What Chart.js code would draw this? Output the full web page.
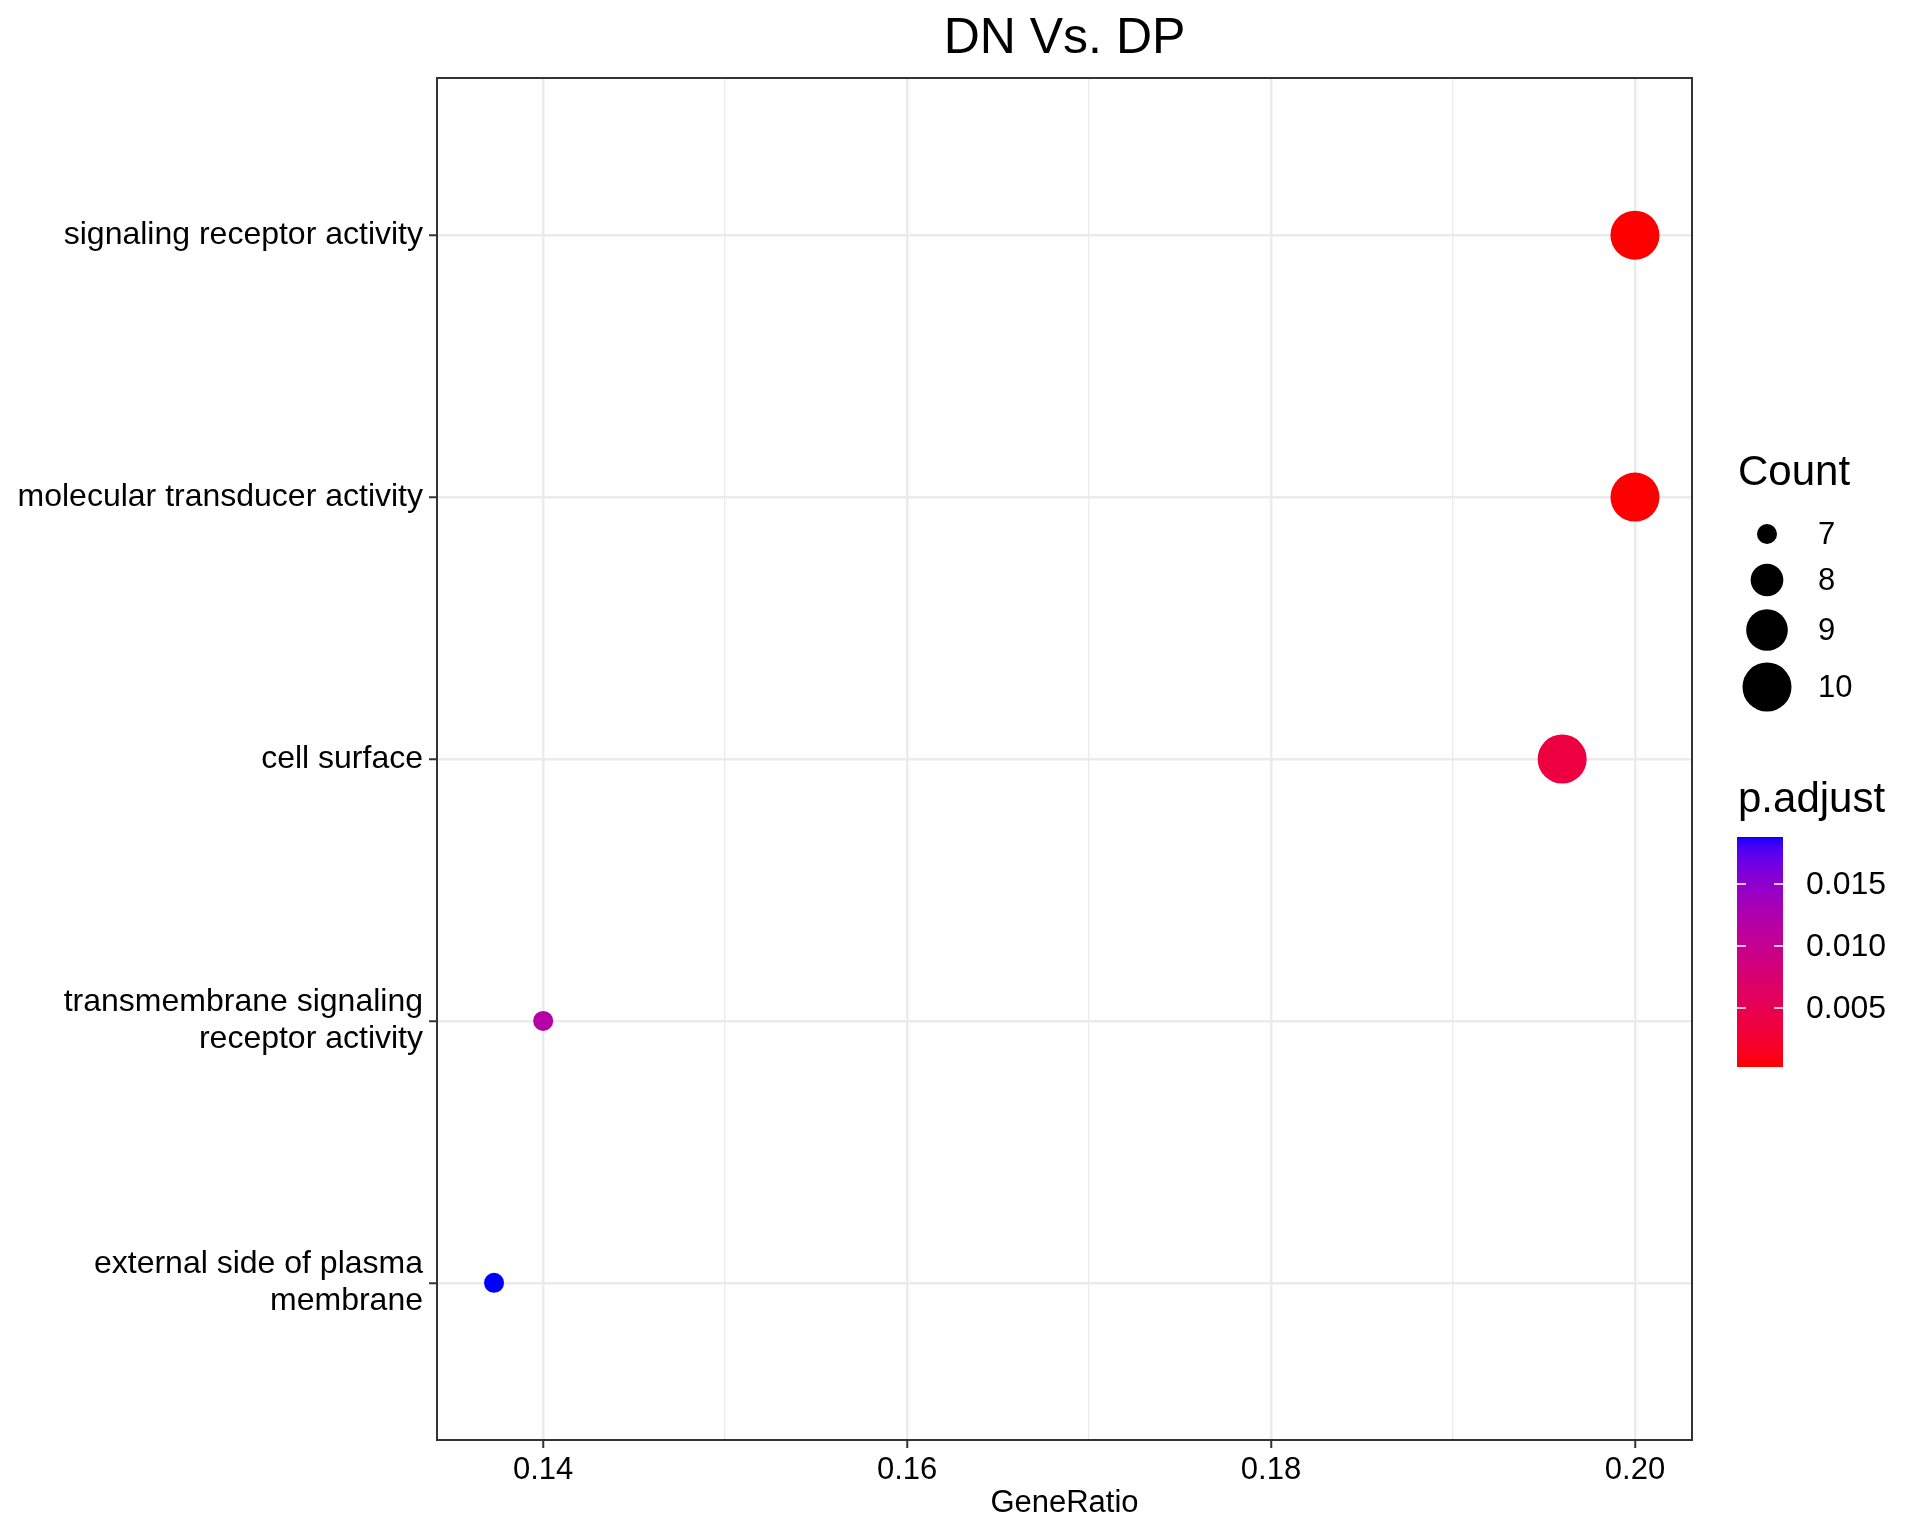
<!DOCTYPE html>
<html>
<head>
<meta charset="utf-8">
<script src="https://cdn.jsdelivr.net/npm/chart.js@4.4.1/dist/chart.umd.min.js"></script>
<style>
  body { margin:0; background:#fff; }
  canvas { display:block; }
</style>
</head>
<body>
<canvas id="dotplot" width="1920" height="1536"></canvas>
<script>
// data (top to bottom as drawn)
const terms = [
  "signaling receptor activity",
  "molecular transducer activity",
  "cell surface",
  "transmembrane signaling receptor activity",
  "external side of plasma membrane"
];
const geneRatio = [0.2, 0.2, 0.196, 0.14, 0.1373];
const counts = [10, 10, 10, 7, 7];
const pAdjust = [0.00024, 0.00031, 0.0037, 0.0118, 0.0188];

const xMajor = [0.14, 0.16, 0.18, 0.20];
const xMinor = [0.15, 0.17, 0.19];
const countBreaks = [7, 8, 9, 10];
const pBreaks = [0.005, 0.010, 0.015];

const FONT = "'Liberation Sans', Arial, Helvetica, sans-serif";
const n = terms.length;

// wrap long labels like str_wrap(width = 30)
function wrap(s, w){
  const out = []; let line = "";
  s.split(" ").forEach(word => {
    if(line && (line + " " + word).length > w){ out.push(line); line = word; }
    else line = line ? line + " " + word : word;
  });
  out.push(line);
  return out;
}

// size scale: area linear in count
const cMin = Math.min(...counts), cMax = Math.max(...counts);
const R_MIN = 10, R_MAX = 24.5;
function radius(c){
  const t = (c - cMin) / (cMax - cMin);
  return Math.sqrt(R_MIN*R_MIN + t*(R_MAX*R_MAX - R_MIN*R_MIN));
}

// colour scale: red -> blue interpolated in Lab
function toLab(hex){
  const v = [1,3,5].map(i => parseInt(hex.substr(i,2),16)/255)
    .map(c => c <= 0.04045 ? c/12.92 : Math.pow((c+0.055)/1.055, 2.4));
  const X = (0.4124564*v[0] + 0.3575761*v[1] + 0.1804375*v[2]) / 0.95047;
  const Y = (0.2126729*v[0] + 0.7151522*v[1] + 0.0721750*v[2]);
  const Z = (0.0193339*v[0] + 0.1191920*v[1] + 0.9503041*v[2]) / 1.08883;
  const f = t => t > 0.008856 ? Math.cbrt(t) : 7.787*t + 16/116;
  return [116*f(Y) - 16, 500*(f(X) - f(Y)), 200*(f(Y) - f(Z))];
}
function fromLab(L, a, b){
  const fy = (L + 16)/116, fx = fy + a/500, fz = fy - b/200;
  const inv = f => f*f*f > 0.008856 ? f*f*f : (f - 16/116)/7.787;
  const X = inv(fx)*0.95047, Y = inv(fy), Z = inv(fz)*1.08883;
  const lin = [
     3.2404542*X - 1.5371385*Y - 0.4985314*Z,
    -0.9692660*X + 1.8760108*Y + 0.0415560*Z,
     0.0556434*X - 0.2040259*Y + 1.0572252*Z
  ];
  const g = lin.map(c => c <= 0.0031308 ? 12.92*c : 1.055*Math.pow(c, 1/2.4) - 0.055)
    .map(c => Math.round(Math.min(1, Math.max(0, c))*255));
  return `rgb(${g[0]},${g[1]},${g[2]})`;
}
const LOW = toLab("#ff0000"), HIGH = toLab("#0000ff");
const pMin = Math.min(...pAdjust), pMax = Math.max(...pAdjust);
function colour(p){
  const t = (p - pMin) / (pMax - pMin);
  return fromLab(LOW[0] + t*(HIGH[0]-LOW[0]), LOW[1] + t*(HIGH[1]-LOW[1]), LOW[2] + t*(HIGH[2]-LOW[2]));
}

const gMin = Math.min(...geneRatio), gMax = Math.max(...geneRatio);
const gPad = (gMax - gMin) * 0.05;

const points = terms.map((t, i) => ({ x: geneRatio[i], y: n - i }));
const isMajor = v => xMajor.some(m => Math.abs(m - v) < 1e-9);

// title, panel border and the two legends
const decorations = {
  id: "decorations",
  afterDraw(chart){
    const { ctx, chartArea: a } = chart;
    ctx.save();
    ctx.fillStyle = "#000";
    ctx.textBaseline = "alphabetic";
    ctx.textAlign = "center";
    ctx.font = `50px ${FONT}`;
    ctx.fillText("DN Vs. DP", (a.left + a.right)/2, 53);

    ctx.strokeStyle = "#333333";
    ctx.lineWidth = 2;
    ctx.strokeRect(a.left, a.top, a.right - a.left, a.bottom - a.top);

    // Count legend
    ctx.textAlign = "left";
    ctx.font = `42px ${FONT}`;
    ctx.fillText("Count", 1738, 485);
    const keyY = [534, 580, 630, 687];
    ctx.font = `31px ${FONT}`;
    ctx.textBaseline = "middle";
    countBreaks.forEach((c, i) => {
      ctx.fillStyle = "#000";
      ctx.beginPath();
      ctx.arc(1767, keyY[i], radius(c), 0, Math.PI*2);
      ctx.fill();
      ctx.fillText(String(c), 1818, keyY[i] + 1);
    });

    // p.adjust colour bar
    ctx.textBaseline = "alphabetic";
    ctx.font = `42px ${FONT}`;
    ctx.fillText("p.adjust", 1738, 812);
    const bx = 1737, bw = 46, bTop = 837, bBot = 1067;
    for(let y = bTop; y < bBot; y++){
      const p = pMax - (y - bTop + 0.5)/(bBot - bTop)*(pMax - pMin);
      ctx.fillStyle = colour(p);
      ctx.fillRect(bx, y, bw, 1);
    }
    ctx.font = `32px ${FONT}`;
    ctx.textBaseline = "middle";
    pBreaks.forEach(p => {
      const y = bBot - (p - pMin)/(pMax - pMin)*(bBot - bTop);
      ctx.strokeStyle = "#ffffff";
      ctx.lineWidth = 1.5;
      ctx.beginPath();
      ctx.moveTo(bx, y); ctx.lineTo(bx + 9, y);
      ctx.moveTo(bx + bw - 9, y); ctx.lineTo(bx + bw, y);
      ctx.stroke();
      ctx.fillStyle = "#000";
      ctx.fillText(p.toFixed(3), 1806, y + 1);
    });
    ctx.restore();
  }
};

new Chart(document.getElementById("dotplot"), {
  type: "scatter",
  data: {
    datasets: [{
      data: points,
      pointRadius: counts.map(radius),
      pointHoverRadius: counts.map(radius),
      pointBackgroundColor: pAdjust.map(colour),
      pointBorderWidth: 0,
      borderWidth: 0
    }]
  },
  options: {
    responsive: false,
    devicePixelRatio: 1,
    animation: false,
    layout: { padding: { top: 78, right: 228, left: 0, bottom: 0 } },
    plugins: { legend: { display: false }, tooltip: { enabled: false } },
    scales: {
      x: {
        type: "linear",
        min: gMin - gPad,
        max: gMax + gPad,
        afterBuildTicks: s => { s.ticks = [...xMajor, ...xMinor].sort((p, q) => p - q).map(v => ({ value: v })); },
        afterFit: s => { s.height = 96; },
        border: { display: false },
        grid: {
          color: "#ebebeb",
          lineWidth: c => isMajor(c.tick.value) ? 2.5 : 1.4,
          tickColor: c => isMajor(c.tick.value) ? "#333333" : "rgba(0,0,0,0)",
          tickWidth: 2,
          tickLength: 8
        },
        ticks: {
          color: "#000",
          font: { family: FONT, size: 31 },
          padding: 4,
          maxRotation: 0,
          autoSkip: false,
          callback: v => isMajor(v) ? v.toFixed(2) : ""
        },
        title: {
          display: true,
          text: "GeneRatio",
          color: "#000",
          font: { family: FONT, size: 31 },
          padding: { top: 0, bottom: 14 }
        }
      },
      y: {
        type: "linear",
        min: 0.4,
        max: n + 0.6,
        afterBuildTicks: s => { s.ticks = terms.map((t, i) => ({ value: n - i })); },
        afterFit: s => { s.width = 437; },
        border: { display: false },
        grid: {
          color: "#ebebeb",
          lineWidth: 2.5,
          tickColor: "#333333",
          tickWidth: 2,
          tickLength: 8
        },
        ticks: {
          color: "#000",
          font: { family: FONT, size: 32, lineHeight: 1.16 },
          padding: 6,
          autoSkip: false,
          callback: v => wrap(terms[n - v], 30)
        }
      }
    }
  },
  plugins: [decorations]
});
</script>
</body>
</html>
